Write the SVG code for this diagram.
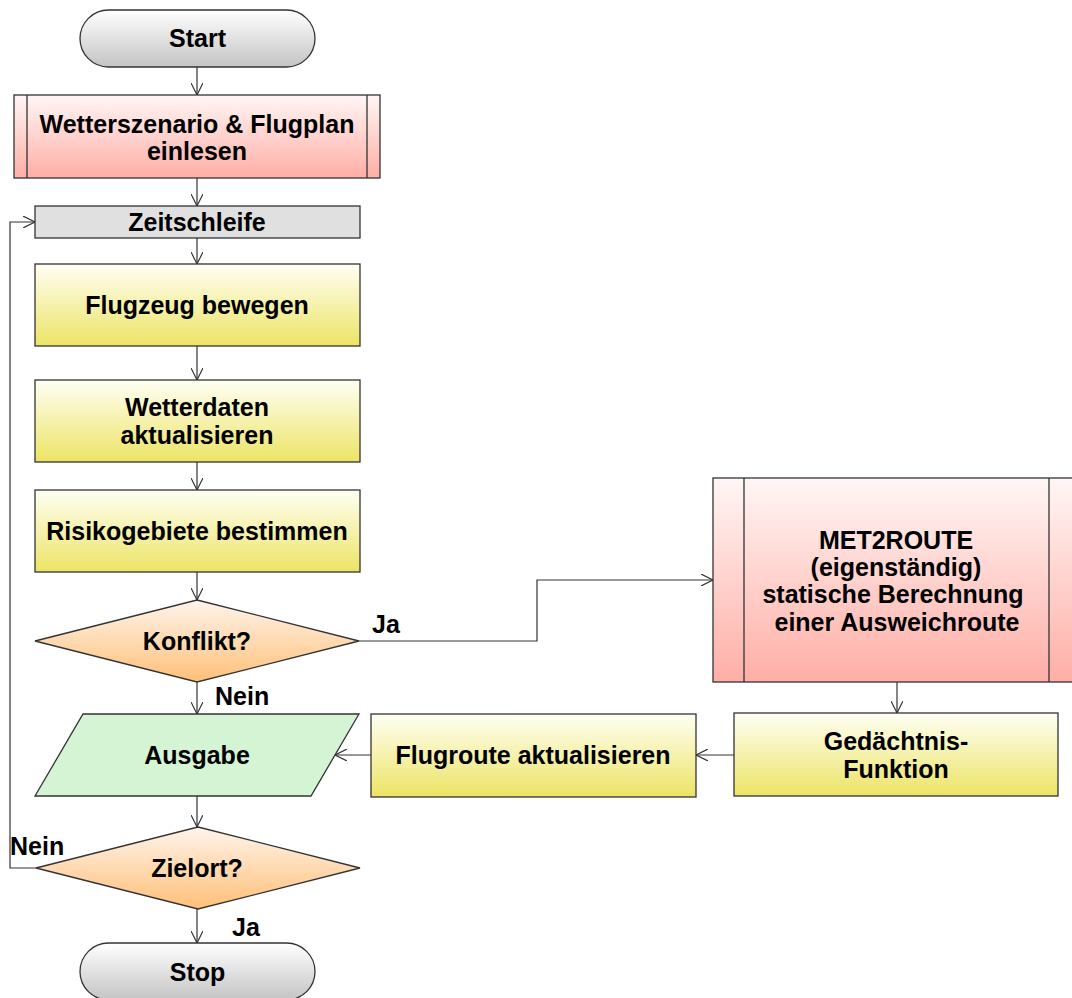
<svg xmlns="http://www.w3.org/2000/svg" width="1072" height="998" viewBox="0 0 1072 998">
<style>
.s{stroke:#333;stroke-width:1.3}
.t{font-family:"Liberation Sans",Arial,sans-serif;font-weight:bold;font-size:25px;fill:#000;text-anchor:middle}
.l{font-family:"Liberation Sans",Arial,sans-serif;font-weight:bold;font-size:25px;fill:#000}
.c{fill:none;stroke:#333;stroke-width:1.2}
</style>
<defs>
<linearGradient id="gG" x1="0" y1="0" x2="0" y2="1"><stop offset="0" stop-color="#ffffff"/><stop offset="1" stop-color="#c4c4c4"/></linearGradient>
<linearGradient id="gP" x1="0" y1="0" x2="0" y2="1"><stop offset="0" stop-color="#fff6f5"/><stop offset="1" stop-color="#ffaea6"/></linearGradient>
<linearGradient id="gY" x1="0" y1="0" x2="0" y2="1"><stop offset="0" stop-color="#fffff4"/><stop offset="1" stop-color="#ece464"/></linearGradient>
<linearGradient id="gO" x1="0" y1="0" x2="0" y2="1"><stop offset="0" stop-color="#fff4ec"/><stop offset="1" stop-color="#ffc078"/></linearGradient>
<marker id="a" markerWidth="14" markerHeight="12" refX="12" refY="6" orient="auto" markerUnits="userSpaceOnUse"><path d="M0,0 L12,6 L0,12" fill="none" stroke="#333" stroke-width="1.2"/></marker>
</defs>
<g id="connectors">
<path class="c" d="M197,67 V95" marker-end="url(#a)"/>
<path class="c" d="M197,178 V206" marker-end="url(#a)"/>
<path class="c" d="M197,238 V264" marker-end="url(#a)"/>
<path class="c" d="M197,346 V380" marker-end="url(#a)"/>
<path class="c" d="M197,462 V490" marker-end="url(#a)"/>
<path class="c" d="M197,572 V600" marker-end="url(#a)"/>
<path class="c" d="M197,682 V714" marker-end="url(#a)"/>
<path class="c" d="M197,796 V827" marker-end="url(#a)"/>
<path class="c" d="M197,909 V943" marker-end="url(#a)"/>
<path class="c" d="M359,641 H537 V580 H713" marker-end="url(#a)"/>
<path class="c" d="M897,682 V713" marker-end="url(#a)"/>
<path class="c" d="M734,755 H696" marker-end="url(#a)"/>
<path class="c" d="M371,755 H335" marker-end="url(#a)"/>
<path class="c" d="M36,868 H10 V222 H35" marker-end="url(#a)"/>
<text class="l" x="372" y="633">Ja</text>
<text class="l" x="215" y="705">Nein</text>
<text class="l" x="10" y="855">Nein</text>
<text class="l" x="232" y="936">Ja</text>
</g>
<g id="start"><rect class="s" x="80" y="10" width="235" height="57" rx="28.5" fill="url(#gG)"/><text class="t" x="197.5" y="47">Start</text></g>
<g id="einlesen"><rect class="s" x="14" y="95" width="366" height="83" fill="url(#gP)"/><path class="s" d="M27,95 V178 M367,95 V178"/><text class="t" x="197" y="133">Wetterszenario &amp; Flugplan</text><text class="t" x="197" y="160">einlesen</text></g>
<g id="zeitschleife"><rect class="s" x="35" y="206" width="325" height="32" fill="#e0e0e0"/><text class="t" x="197" y="231">Zeitschleife</text></g>
<g id="bewegen"><rect class="s" x="35" y="264" width="325" height="82" fill="url(#gY)"/><text class="t" x="197" y="314">Flugzeug bewegen</text></g>
<g id="wetterdaten"><rect class="s" x="35" y="380" width="325" height="82" fill="url(#gY)"/><text class="t" x="197" y="416">Wetterdaten</text><text class="t" x="197" y="444">aktualisieren</text></g>
<g id="risiko"><rect class="s" x="35" y="490" width="325" height="82" fill="url(#gY)"/><text class="t" x="197" y="540">Risikogebiete bestimmen</text></g>
<g id="konflikt"><polygon class="s" points="197,600 359,641 197,682 35,641" fill="url(#gO)"/><text class="t" x="197" y="650">Konflikt?</text></g>
<g id="ausgabe"><polygon class="s" points="83,714 359,714 311,796 35,796" fill="#d4f4d4"/><text class="t" x="197" y="764">Ausgabe</text></g>
<g id="zielort"><polygon class="s" points="198,827 360,868 198,909 36,868" fill="url(#gO)"/><text class="t" x="197" y="877">Zielort?</text></g>
<g id="stop"><rect class="s" x="80" y="943" width="235" height="57" rx="28.5" fill="url(#gG)"/><text class="t" x="197.5" y="981">Stop</text></g>
<g id="met2route"><rect class="s" x="713" y="478" width="370" height="204" fill="url(#gP)"/><path class="s" d="M744,478 V682 M1049,478 V682"/><text class="t" x="896" y="549">MET2ROUTE</text><text class="t" x="896" y="576">(eigenständig)</text><text class="t" x="893" y="603">statische Berechnung</text><text class="t" x="897" y="631">einer Ausweichroute</text></g>
<g id="gedaechtnis"><rect class="s" x="734" y="713" width="324" height="83" fill="url(#gY)"/><text class="t" x="896" y="750">Gedächtnis-</text><text class="t" x="896" y="778">Funktion</text></g>
<g id="flugroute"><rect class="s" x="371" y="714" width="325" height="83" fill="url(#gY)"/><text class="t" x="533" y="764">Flugroute aktualisieren</text></g>
</svg>
